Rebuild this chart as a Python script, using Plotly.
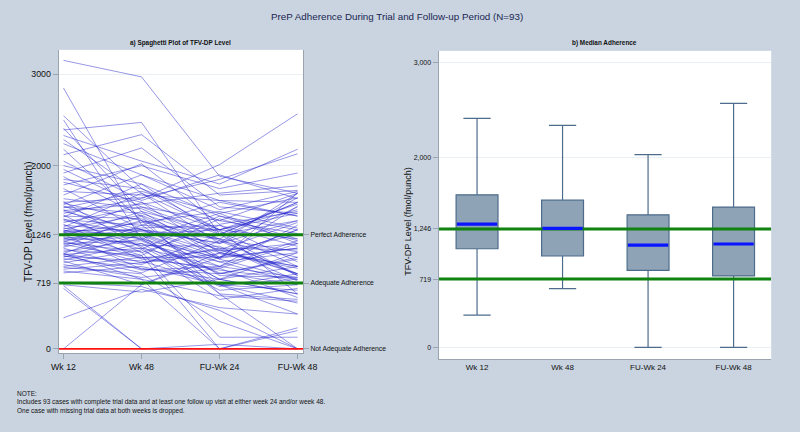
import plotly.graph_objects as go

# ---------------- data ----------------
visits = ["Wk 12", "Wk 48", "FU-Wk 24", "FU-Wk 48"]

# one row per participant: [Wk 12, Wk 48, FU-Wk 24, FU-Wk 48]  (fmol/punch)
subjects = [
    [0, 700, 1050, 900], [339, 650, 450, 380], [660, 0, 50, 0], [690, 0, 0, 230],
    [700, 620, 760, 600], [720, 680, 420, 0], [830, 900, 700, 640], [850, 760, 580, 520],
    [870, 940, 1100, 820], [890, 820, 300, 0], [900, 1000, 860, 760], [920, 780, 880, 1150],
    [940, 1080, 640, 700], [960, 700, 1000, 1300], [970, 1150, 950, 720], [985, 880, 760, 1050],
    [1000, 1250, 1300, 1480], [1010, 960, 700, 380], [1020, 830, 1180, 820], [1030, 1100, 540, 660],
    [1035, 920, 1250, 1600], [1040, 1350, 800, 780], [1045, 760, 0, 200], [1060, 1200, 990, 1100],
    [1080, 1020, 1420, 1180], [1100, 860, 900, 780], [1110, 1300, 1150, 1400], [1120, 1450, 600, 540],
    [1140, 990, 1080, 820], [1150, 1180, 820, 980], [1160, 1060, 127, 127], [1170, 1400, 1200, 1650],
    [1180, 940, 1040, 880], [1190, 1220, 760, 600], [1200, 1320, 1350, 1120], [1210, 1000, 1000, 1560],
    [1220, 1150, 700, 760], [1230, 1500, 1280, 900], [1240, 1260, 980, 1700], [1250, 870, 820, 1000],
    [1260, 1380, 1500, 1320], [1270, 1130, 1120, 740], [1275, 1020, 0, 0], [1280, 1600, 1050, 1250],
    [1285, 1240, 900, 1350], [1290, 1300, 1200, 800], [1297, 1090, 1450, 1200], [1310, 1460, 1100, 1080],
    [1320, 1200, 760, 900], [1330, 1700, 1300, 1520], [1350, 1280, 1160, 1700], [1360, 980, 880, 560],
    [1380, 1550, 1400, 1260], [1400, 1250, 950, 1050], [1410, 1350, 1600, 1450], [1420, 1120, 680, 820],
    [1440, 1800, 1250, 1600], [1450, 1420, 1070, 1150], [1460, 1050, 1350, 950], [1480, 1640, 2012, 2567],
    [1500, 1300, 1000, 1300], [1510, 1580, 1700, 1780], [1520, 1190, 830, 700], [1540, 1720, 1480, 1650],
    [1550, 1480, 1180, 1000], [1560, 1250, 600, 0], [1575, 1900, 1520, 1720], [1590, 1400, 1080, 1380],
    [1600, 1650, 1850, 2130], [1610, 1100, 900, 1180], [1640, 1530, 1200, 1060], [1680, 2020, 1360, 1500],
    [1720, 1680, 1620, 1600], [1750, 1300, 1050, 900], [1790, 2000, 1750, 1920], [1820, 1600, 1300, 1200],
    [1850, 1750, 1400, 1700], [1880, 1450, 980, 760], [1920, 2194, 1550, 1480], [1960, 1550, 1250, 1400],
    [2000, 1800, 1450, 1300], [2050, 1620, 1900, 1640], [2120, 2339, 1680, 1730], [2180, 1400, 700, 500],
    [2240, 1900, 1620, 1450], [2285, 1700, 1150, 1550], [2330, 2050, 1800, 2180], [2390, 2473, 1250, 800],
    [2410, 1500, 1000, 1100], [2500, 1200, 1480, 1150], [2545, 1750, 1300, 600], [2848, 1350, 1300, 1580],
    [3150, 2970, 1885, 1700],
]

# box-plot summary per visit (outside values not shown)
box_lower = [339, 619, 0, 0]
box_q1 = [1038, 962, 811, 752]
box_median = [1297, 1252, 1077, 1088]
box_q3 = [1605, 1549, 1395, 1476]
box_upper = [2410, 2336, 2028, 2567]

ref_values = [1246, 719]
ref_labels = ["Perfect Adherence", "Adequate Adherence", "Not Adequate Adherence"]
left_ticks = [0, 719, 1246, 2000, 3000]
right_ticks = [0, 719, 1246, 2000, 3000]
right_ticktext = ["0", "719", "1,246", "2,000", "3,000"]

# ---------------- styling ----------------
BG = "#c9d4e0"
FONT = "Liberation Sans, Arial, Helvetica, sans-serif"
AXC = "#9aa4ae"
GRID = "#e9eff3"
GREEN = "#0f820f"
BOXW = 0.49
X1 = [-0.0625, 3.07]
Y1 = [-47, 3265]
X2 = [-0.45, 3.44]
Y2 = [-123, 3119]

fig = go.Figure()

xs = list(range(len(visits)))

# right panel reference lines first (drawn beneath the boxes)
for v in ref_values:
    fig.add_trace(go.Scatter(x=X2, y=[v, v], mode="lines", xaxis="x2", yaxis="y2",
                             line=dict(color=GREEN, width=3), hoverinfo="skip", showlegend=False))

for row in subjects:
    fig.add_trace(go.Scatter(
        x=xs, y=row, mode="lines", xaxis="x", yaxis="y",
        line=dict(color="rgba(35,35,205,0.6)", width=0.8),
        hoverinfo="skip", showlegend=False))

# left panel reference lines
for v in ref_values:
    fig.add_trace(go.Scatter(x=X1, y=[v, v], mode="lines", xaxis="x", yaxis="y",
                             line=dict(color=GREEN, width=3), hoverinfo="skip", showlegend=False))
fig.add_trace(go.Scatter(x=X1, y=[0, 0], mode="lines", xaxis="x", yaxis="y",
                         line=dict(color="#ff1010", width=1.6), hoverinfo="skip", showlegend=False))

fig.add_trace(go.Box(
    x=xs, q1=box_q1, median=box_median, q3=box_q3,
    lowerfence=box_lower, upperfence=box_upper,
    xaxis="x2", yaxis="y2", width=BOXW, whiskerwidth=0.65,
    fillcolor="#8fa3b7", line=dict(color="#4d6c8c", width=1.2),
    boxpoints=False, showlegend=False, hoverinfo="skip"))

# median bars in blue
mx, my = [], []
for i, m in enumerate(box_median):
    mx += [i - BOXW / 2 + 0.01, i + BOXW / 2 - 0.01, None]
    my += [m, m, None]
fig.add_trace(go.Scatter(x=mx, y=my, mode="lines", xaxis="x2", yaxis="y2",
                         line=dict(color="#0a14ff", width=3.2),
                         hoverinfo="skip", showlegend=False))

# dummy trace so the right-hand label axis is rendered
fig.add_trace(go.Scatter(x=[None], y=[None], xaxis="x", yaxis="y3",
                         showlegend=False, hoverinfo="skip"))

fig.update_layout(
    width=800, height=432,
    paper_bgcolor=BG, plot_bgcolor="white",
    margin=dict(l=0, r=0, t=0, b=0, pad=0),
    font=dict(family=FONT, color="#111111"),
    xaxis=dict(domain=[0.0663, 0.380], range=X1, tickvals=xs, ticktext=visits,
               showgrid=False, zeroline=False, showline=True, linecolor=AXC, linewidth=1,
               ticks="outside", ticklen=5, tickcolor=AXC, tickfont=dict(size=8.8, family=FONT),
               anchor="y"),
    yaxis=dict(domain=[0.1806, 0.8843], range=Y1, tickvals=left_ticks,
               ticktext=[str(t) for t in left_ticks],
               showgrid=True, gridcolor=GRID, zeroline=False, showline=True, linecolor=AXC,
               linewidth=1, ticks="outside", ticklen=5, tickcolor=AXC,
               tickfont=dict(size=8.8, family=FONT), anchor="x"),
    yaxis3=dict(overlaying="y", side="right", anchor="x", range=Y1,
                tickvals=[1246, 719, 0], ticktext=ref_labels,
                showgrid=False, zeroline=False, showline=True, linecolor=AXC, linewidth=1,
                ticks="outside", ticklen=5, tickcolor=AXC,
                tickfont=dict(size=6.8, family=FONT)),
    xaxis2=dict(domain=[0.554, 0.981], range=X2, tickvals=xs, ticktext=visits,
                showgrid=False, zeroline=False, showline=True, linecolor=AXC, linewidth=1,
                ticks="", tickfont=dict(size=8, family=FONT), anchor="y2"),
    yaxis2=dict(domain=[0.1667, 0.882], range=Y2, tickvals=right_ticks, ticktext=right_ticktext,
                showgrid=True, gridcolor=GRID, zeroline=False, showline=True, linecolor=AXC,
                linewidth=1, ticks="outside", ticklen=5, tickcolor=AXC,
                tickfont=dict(size=7, family=FONT), anchor="x2"),
    annotations=[
        dict(text="PreP Adherence During Trial and Follow-up Period (N=93)", x=0.5, y=1 - 17 / 432,
             xanchor="center", yanchor="middle",
             xref="paper", yref="paper", showarrow=False,
             font=dict(size=9.8, color="#1a2552", family=FONT)),
        dict(text="<b>a) Spaghetti Plot of TFV-DP Level</b>", x=178 / 800, y=1 - 43 / 432,
             xanchor="center", yanchor="middle",
             xref="paper", yref="paper", showarrow=False, font=dict(size=6.4, family=FONT)),
        dict(text="<b>b) Median Adherence</b>", x=614 / 800, y=1 - 43 / 432,
             xanchor="center", yanchor="middle",
             xref="paper", yref="paper", showarrow=False, font=dict(size=6.4, family=FONT)),
        dict(text="TFV-DP Level (fmol/punch)", x=22 / 800, y=1 - 222 / 432, textangle=-90,
             xanchor="center", yanchor="middle",
             xref="paper", yref="paper", showarrow=False, font=dict(size=10, family=FONT)),
        dict(text="TFV-DP Level (fmol/punch)", x=412 / 800, y=1 - 222 / 432, textangle=-90,
             xanchor="center", yanchor="middle",
             xref="paper", yref="paper", showarrow=False, font=dict(size=9, family=FONT)),
        dict(text="NOTE:<br>Includes 93 cases with complete trial data and at least one follow up visit at either week 24 and/or week 48.<br>One case with missing trial data at both weeks is dropped.",
             x=8 / 800, y=1 - 389 / 432, xanchor="left", yanchor="top", align="left",
             xref="paper", yref="paper", showarrow=False, font=dict(size=6.5, family=FONT)),
    ],
)

fig.write_html("out.html", config={"displayModeBar": False},
               post_script="document.body.style.margin='0px';")
